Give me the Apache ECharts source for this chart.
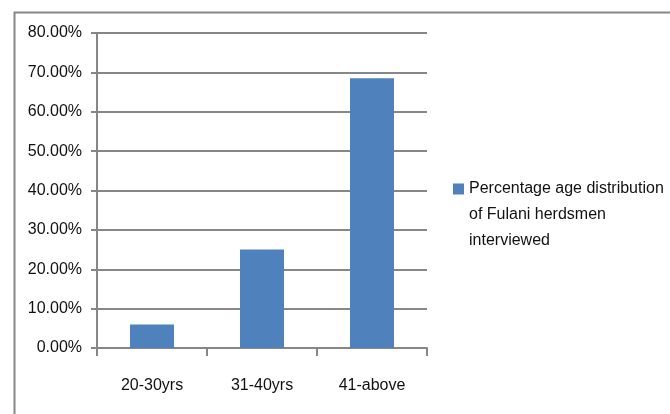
<!DOCTYPE html>
<html>
<head>
<meta charset="utf-8">
<style>
  html, body { margin: 0; padding: 0; background: #ffffff; }
  #chart { width: 670px; height: 414px; }
</style>
<script src="https://cdn.jsdelivr.net/npm/echarts@6/dist/echarts.min.js"></script>
</head>
<body>
<div id="chart"></div>
<script>
// Age groups of the herdsmen interviewed
const categories = ['20-30yrs', '31-40yrs', '41-above'];
// Share of respondents in each age group (percent)
const percentages = [6, 25, 68.5];
// Value axis range and step (percent)
const axisMin = 0;
const axisMax = 80;
const axisStep = 10;
const seriesName = 'Percentage age distribution of Fulani herdsmen interviewed';
// Legend text broken into the lines it is printed on
const legendLines = ['Percentage age distribution', 'of Fulani herdsmen', 'interviewed'];

const FONT = '"Liberation Sans", Arial, sans-serif';
const GRID_GREY = '#878787';
const TEXT = '#111111';

const chart = echarts.init(document.getElementById('chart'), null, { renderer: 'canvas' });

chart.setOption({
  animation: false,
  backgroundColor: '#ffffff',
  textStyle: { fontFamily: FONT },
  graphic: [{
    type: 'rect',
    left: 12,
    top: 10,
    shape: { x: 0, y: 0, width: 720, height: 480 },
    style: { fill: 'none', stroke: GRID_GREY, lineWidth: 2 },
    silent: true,
    z: -1
  }],
  grid: { left: 97, top: 33, right: 243, bottom: 66, containLabel: false },
  legend: {
    left: 453,
    top: 124,
    padding: 0,
    itemWidth: 11,
    itemHeight: 11,
    icon: 'rect',
    selectedMode: false,
    data: [seriesName],
    // two leading blank lines keep the first text line level with the swatch
    formatter: () => '\n\n' + legendLines.join('\n'),
    textStyle: {
      fontFamily: FONT,
      fontSize: 16,
      color: TEXT,
      lineHeight: 26
    }
  },
  xAxis: {
    type: 'category',
    data: categories,
    boundaryGap: true,
    axisLine: { lineStyle: { color: GRID_GREY, width: 2 } },
    axisTick: { show: true, alignWithLabel: false, inside: false, length: 8, lineStyle: { color: GRID_GREY, width: 2 } },
    axisLabel: { margin: 30, fontSize: 16, color: TEXT, fontFamily: FONT },
    splitLine: { show: false }
  },
  yAxis: {
    type: 'value',
    min: axisMin,
    max: axisMax,
    interval: axisStep,
    axisLine: { show: true, lineStyle: { color: GRID_GREY, width: 2 } },
    axisTick: { show: true, inside: false, length: 6, lineStyle: { color: GRID_GREY, width: 2 } },
    axisLabel: {
      margin: 15,
      fontSize: 16,
      color: TEXT,
      fontFamily: FONT,
      formatter: v => v.toFixed(2) + '%'
    },
    splitLine: { show: true, lineStyle: { color: GRID_GREY, width: 2 } }
  },
  series: [{
    name: seriesName,
    type: 'bar',
    data: percentages,
    barWidth: '40%',
    itemStyle: { color: '#4F81BD' },
    z: 3
  }]
});
</script>
</body>
</html>
